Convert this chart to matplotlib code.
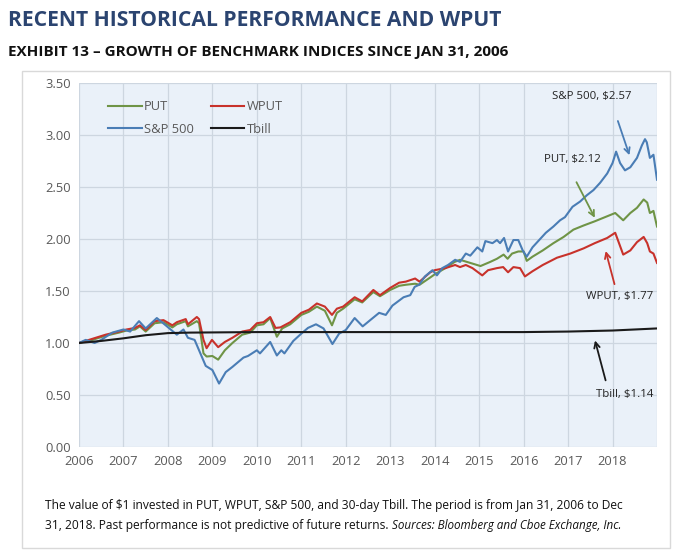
import matplotlib.pyplot as plt
from matplotlib.patches import Rectangle

# decimal year / growth of $1
sp_t = [2006.0, 2006.15, 2006.35, 2006.5, 2006.75, 2007.0, 2007.15, 2007.35, 2007.5, 2007.75,
        2007.95, 2008.2, 2008.35, 2008.45, 2008.6, 2008.75, 2008.85, 2009.0, 2009.15, 2009.3,
        2009.45, 2009.7, 2009.8, 2010.0, 2010.07, 2010.3, 2010.45, 2010.55, 2010.62, 2010.82,
        2011.0, 2011.15, 2011.33, 2011.5, 2011.7, 2011.85, 2012.0, 2012.2, 2012.38, 2012.55,
        2012.75, 2012.9, 2013.05, 2013.3, 2013.45, 2013.55, 2013.65, 2013.78, 2013.95, 2014.05,
        2014.17, 2014.3, 2014.46, 2014.57, 2014.7, 2014.8, 2014.96, 2015.07, 2015.14, 2015.3,
        2015.4, 2015.47, 2015.56, 2015.65, 2015.77, 2015.88, 2015.98, 2016.07, 2016.2, 2016.35,
        2016.5, 2016.67, 2016.82, 2016.93, 2017.1, 2017.27, 2017.42, 2017.57, 2017.72, 2017.88,
        2018.0, 2018.08, 2018.17, 2018.28, 2018.4, 2018.55, 2018.66, 2018.73, 2018.77, 2018.84,
        2018.92, 2019.0]
sp_v = [1.00, 1.03, 1.00, 1.03, 1.10, 1.13, 1.11, 1.21, 1.14, 1.24,
        1.17, 1.08, 1.13, 1.05, 1.03, 0.88, 0.78, 0.74, 0.61, 0.72,
        0.77, 0.86, 0.875, 0.93, 0.90, 1.01, 0.88, 0.93, 0.90, 1.02,
        1.09, 1.145, 1.18, 1.14, 0.99, 1.09, 1.125, 1.24, 1.16, 1.22,
        1.29, 1.27, 1.36, 1.44, 1.46, 1.54, 1.56, 1.64, 1.70, 1.65,
        1.72, 1.75, 1.80, 1.78, 1.86, 1.84, 1.92, 1.88, 1.98, 1.96,
        1.99, 1.96, 2.01, 1.88, 1.99, 1.99, 1.89, 1.83, 1.92, 1.99,
        2.06, 2.12, 2.18, 2.21, 2.31, 2.36, 2.42, 2.47, 2.54, 2.63,
        2.73, 2.84, 2.73, 2.66, 2.69, 2.78, 2.90, 2.96, 2.93, 2.78,
        2.81, 2.57]

wput_t = [2006.0, 2006.3, 2006.6, 2006.9, 2007.07, 2007.26, 2007.37, 2007.5, 2007.7, 2007.9,
          2008.1, 2008.2, 2008.4, 2008.45, 2008.65, 2008.7, 2008.8, 2008.87, 2008.99, 2009.13,
          2009.28, 2009.45, 2009.67, 2009.85, 2010.0, 2010.15, 2010.3, 2010.42, 2010.53, 2010.75,
          2011.0, 2011.17, 2011.35, 2011.53, 2011.69, 2011.8, 2011.94, 2012.2, 2012.37, 2012.62,
          2012.77, 2013.0, 2013.2, 2013.35, 2013.56, 2013.66, 2013.9, 2014.0, 2014.24, 2014.46,
          2014.57, 2014.7, 2014.85, 2015.07, 2015.2, 2015.4, 2015.54, 2015.65, 2015.77, 2015.92,
          2016.03, 2016.2, 2016.43, 2016.75, 2017.05, 2017.35, 2017.6, 2017.88, 2018.06, 2018.24,
          2018.4, 2018.55, 2018.7, 2018.78, 2018.84, 2018.92, 2019.0]
wput_v = [1.00, 1.04, 1.08, 1.11, 1.13, 1.145, 1.17, 1.125, 1.21, 1.22,
          1.17, 1.20, 1.23, 1.18, 1.25, 1.23, 1.03, 0.95, 1.03, 0.96,
          1.01, 1.05, 1.11, 1.125, 1.19, 1.20, 1.25, 1.145, 1.15, 1.20,
          1.29, 1.32, 1.38, 1.35, 1.27, 1.33, 1.35, 1.44, 1.40, 1.51,
          1.46, 1.53, 1.58, 1.59, 1.62, 1.59, 1.68, 1.70, 1.72, 1.75,
          1.73, 1.75, 1.72, 1.65, 1.70, 1.72, 1.73, 1.68, 1.73, 1.72,
          1.64, 1.69, 1.75, 1.82, 1.86, 1.91, 1.96, 2.01, 2.06, 1.85,
          1.89, 1.97, 2.02, 1.96, 1.88, 1.86, 1.77]

put_t = [2006.0, 2006.3, 2006.6, 2006.9, 2007.07, 2007.26, 2007.37, 2007.5, 2007.7, 2007.9,
         2008.1, 2008.2, 2008.4, 2008.45, 2008.65, 2008.7, 2008.8, 2008.87, 2009.0, 2009.13,
         2009.28, 2009.45, 2009.67, 2009.85, 2010.0, 2010.15, 2010.3, 2010.45, 2010.57, 2010.75,
         2011.0, 2011.17, 2011.35, 2011.53, 2011.69, 2011.8, 2011.94, 2012.2, 2012.37, 2012.62,
         2012.77, 2013.0, 2013.2, 2013.35, 2013.56, 2013.66, 2013.9, 2014.0, 2014.24, 2014.45,
         2014.57, 2014.8, 2015.03, 2015.25, 2015.4, 2015.55, 2015.64, 2015.74, 2015.88, 2016.0,
         2016.07, 2016.2, 2016.43, 2016.67, 2016.9, 2017.12, 2017.35, 2017.6, 2017.83, 2018.06,
         2018.24, 2018.4, 2018.55, 2018.7, 2018.78, 2018.84, 2018.92, 2019.0]
put_v = [1.00, 1.03, 1.07, 1.10, 1.12, 1.13, 1.16, 1.11, 1.19, 1.20,
         1.15, 1.18, 1.21, 1.16, 1.21, 1.19, 0.90, 0.87, 0.875, 0.84,
         0.93, 1.00, 1.08, 1.10, 1.17, 1.18, 1.24, 1.06, 1.14, 1.18,
         1.27, 1.30, 1.35, 1.31, 1.17, 1.29, 1.33, 1.42, 1.39, 1.49,
         1.45, 1.51, 1.55, 1.56, 1.57, 1.56, 1.63, 1.66, 1.72, 1.78,
         1.80, 1.77, 1.74, 1.78, 1.81, 1.85, 1.81, 1.86, 1.88, 1.88,
         1.79, 1.83, 1.89, 1.96, 2.02, 2.09, 2.13, 2.17, 2.21, 2.25,
         2.18, 2.25, 2.30, 2.38, 2.35, 2.25, 2.27, 2.12]

tbill_t = [2006.0, 2006.5, 2007.0, 2007.5, 2008.0, 2008.5, 2010.0, 2014.0, 2016.0, 2017.0, 2018.0, 2019.0]
tbill_v = [1.00, 1.02, 1.045, 1.075, 1.095, 1.10, 1.105, 1.105, 1.105, 1.11, 1.12, 1.14]

years = list(range(2006, 2019))

c_put = '#6F9446'
c_wput = '#C8322B'
c_sp = '#4A7DB5'
c_tb = '#1A1A1A'

plt.rcParams['font.family'] = ['Open Sans', 'DejaVu Sans']

fig = plt.figure(figsize=(6.8, 5.51), dpi=100)
W, H = 680, 551

# outer frame around chart + caption
fig.patches.append(Rectangle((22 / W, 1 - 548 / H), 648 / W, 477 / H, transform=fig.transFigure,
                             fill=False, edgecolor='#D9D9D9', linewidth=1.0))

fig.text(8 / W, 1 - 21 / H, 'RECENT HISTORICAL PERFORMANCE AND WPUT', fontsize=15.2,
         fontweight='bold', color='#2B4470', va='center', ha='left')
fig.text(8 / W, 1 - 52 / H, 'EXHIBIT 13 \u2013 GROWTH OF BENCHMARK INDICES SINCE JAN 31, 2006',
         fontsize=11.0, fontweight='bold', color='#111111', va='center', ha='left')

ax = fig.add_axes([79 / W, 1 - 447 / H, 578 / W, 364 / H])
ax.set_facecolor('#EAF1F9')
for s in ax.spines.values():
    s.set_visible(False)
ax.grid(True, color='#CDD6E0', linewidth=0.9)
ax.set_axisbelow(True)

ax.plot(put_t, put_v, color=c_put, lw=1.5, label='PUT')
ax.plot(wput_t, wput_v, color=c_wput, lw=1.5, label='WPUT')
ax.plot(sp_t, sp_v, color=c_sp, lw=1.5, label='S&P 500')
ax.plot(tbill_t, tbill_v, color=c_tb, lw=1.5, label='Tbill')

ax.set_xlim(2006, 2019)
ax.set_ylim(0, 3.5)
ax.set_xticks(years + [2019])
ax.set_xticklabels([str(y) for y in years] + [''])
ax.set_yticks([0, 0.5, 1, 1.5, 2, 2.5, 3, 3.5])
ax.set_yticklabels(['%.2f' % v for v in ax.get_yticks()])
ax.tick_params(length=0, labelsize=9.3, colors='#595959', pad=6)

h, l = ax.get_legend_handles_labels()
order = [0, 2, 1, 3]
ax.legend([h[i] for i in order], [l[i] for i in order], ncol=2, frameon=False,
          loc='upper left', bbox_to_anchor=(0.03, 0.985), fontsize=9.3, labelcolor='#595959',
          handlelength=2.6, handletextpad=0.2, columnspacing=1.3, labelspacing=0.75)

akw = dict(fontsize=8.2, color='#222222', ha='center', va='center')
ax.annotate('S&P 500, $2.57', xy=(2018.40, 2.78), xytext=(2017.54, 3.37), **akw)
ax.annotate('', xy=(2018.40, 2.78), xytext=(2018.10, 3.16),
            arrowprops=dict(arrowstyle='->', color=c_sp, lw=1.3))
ax.annotate('PUT, $2.12', xy=(2017.63, 2.18), xytext=(2017.09, 2.76), **akw)
ax.annotate('', xy=(2017.63, 2.18), xytext=(2017.16, 2.57),
            arrowprops=dict(arrowstyle='->', color=c_put, lw=1.3))
ax.annotate('WPUT, $1.77', xy=(2017.83, 1.91), xytext=(2018.17, 1.45), **akw)
ax.annotate('', xy=(2017.83, 1.91), xytext=(2018.06, 1.54),
            arrowprops=dict(arrowstyle='->', color=c_wput, lw=1.3))
ax.annotate('Tbill, $1.14', xy=(2017.59, 1.05), xytext=(2018.28, 0.50), **akw)
ax.annotate('', xy=(2017.59, 1.05), xytext=(2017.86, 0.615),
            arrowprops=dict(arrowstyle='->', color=c_tb, lw=1.3))

cap1 = 'The value of $1 invested in PUT, WPUT, S&P 500, and 30-day Tbill. The period is from Jan 31, 2006 to Dec'
fig.text(45 / W, 1 - 505 / H, cap1, fontsize=8.65, color='#111111', va='center', ha='left')
t2 = fig.text(45 / W, 1 - 526 / H, '31, 2018. Past performance is not predictive of future returns. ',
              fontsize=8.65, color='#111111', va='center', ha='left')
fig.canvas.draw()
bb = t2.get_window_extent()
fig.text(bb.x1 / W / (fig.dpi / 100), 1 - 526 / H, 'Sources: Bloomberg and Cboe Exchange, Inc.',
         fontsize=8.4, style='italic', color='#111111', va='center', ha='left')

fig.savefig('out.png', dpi=100, facecolor='white')
